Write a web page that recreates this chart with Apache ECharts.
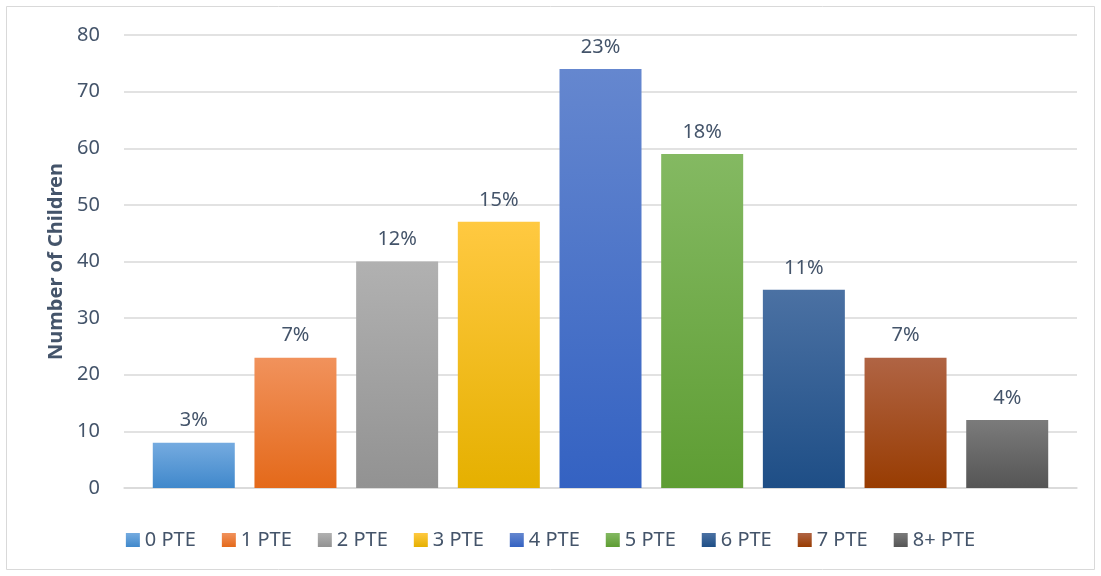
<!DOCTYPE html>
<html>
<head>
<meta charset="utf-8">
<script src="https://cdn.jsdelivr.net/npm/echarts@6/dist/echarts.min.js"></script>
<style>
  html, body { margin: 0; padding: 0; background: #fff; }
  #chart { width: 1101px; height: 576px; }
</style>
</head>
<body>
<div id="chart"></div>
<script>
// data
const groups = ['0 PTE', '1 PTE', '2 PTE', '3 PTE', '4 PTE', '5 PTE', '6 PTE', '7 PTE', '8+ PTE']
const children = [8, 23, 40, 47, 74, 59, 35, 23, 12]
const shares = ['3%', '7%', '12%', '15%', '23%', '18%', '11%', '7%', '4%']
const yTicks = [0, 10, 20, 30, 40, 50, 60, 70, 80]

// top / bottom colour of each bar gradient
const colorArr = [
    ['#75abe0', '#4088cb'],
    ['#f1925c', '#e4691a'],
    ['#b1b1b1', '#929292'],
    ['#ffc941', '#e5b000'],
    ['#6587cf', '#3462c2'],
    ['#84b962', '#5e9d33'],
    ['#4b71a3', '#1e4e86'],
    ['#b06444', '#983c02'],
    ['#7b7b7b', '#555555']
]
const textColor = '#44546a'
const font = 'Noto Sans'

const chart = echarts.init(document.getElementById('chart'))

const seriesArr = groups.map((name, i) => {
    return {
        name: name,
        type: 'bar',
        barWidth: 82,
        barGap: '24%',
        data: [children[i]],
        itemStyle: {
            color: new echarts.graphic.LinearGradient(0, 0, 0, 1, [
                { offset: 0, color: colorArr[i][0] },
                { offset: 1, color: colorArr[i][1] }
            ])
        },
        label: {
            show: true,
            position: 'top',
            distance: 12,
            formatter: shares[i],
            color: textColor,
            fontFamily: font,
            fontSize: 20
        },
        emphasis: { disabled: true }
    }
})

const option = {
    animation: false,
    backgroundColor: '#fff',
    graphic: [{
        type: 'rect',
        shape: { x: 6.5, y: 6.5, width: 1088, height: 563 },
        style: { fill: 'none', stroke: '#d9d9d9', lineWidth: 1 },
        silent: true
    }],
    grid: { left: 124, right: 24, top: 35, bottom: 88 },
    legend: {
        bottom: 21,
        left: 'center',
        itemWidth: 14,
        itemHeight: 14,
        itemGap: 26,
        icon: 'rect',
        textStyle: { color: textColor, fontFamily: font, fontSize: 20 },
        data: groups
    },
    xAxis: {
        type: 'category',
        data: [''],
        axisLine: { lineStyle: { color: '#d9d9d9', width: 1.5 } },
        axisTick: { show: false },
        axisLabel: { show: false }
    },
    yAxis: {
        type: 'value',
        min: yTicks[0],
        max: yTicks[yTicks.length - 1],
        interval: yTicks[1] - yTicks[0],
        name: 'Number of Children',
        nameLocation: 'middle',
        nameGap: 56,
        nameTextStyle: { color: textColor, fontFamily: font, fontSize: 20, fontWeight: 'bold' },
        axisLine: { show: false },
        axisTick: { show: false },
        axisLabel: { color: textColor, fontFamily: font, fontSize: 20, margin: 24 },
        splitLine: { lineStyle: { color: '#d9d9d9', width: 1.5 } }
    },
    series: seriesArr
}
chart.setOption(option)
</script>
</body>
</html>
